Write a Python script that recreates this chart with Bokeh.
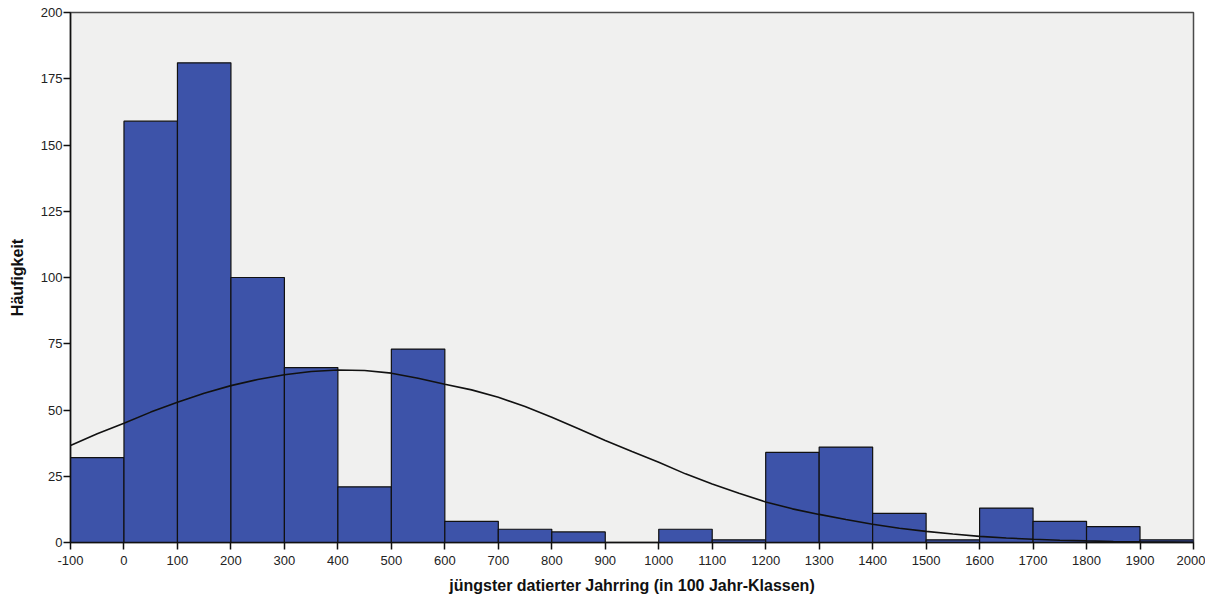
from bokeh.plotting import figure
from bokeh.models import Range1d, FixedTicker, ColumnDataSource
from bokeh.embed import file_html
from bokeh.resources import INLINE

# Histogram classes (left edge of each 100-year class) and counts
class_left = [-100, 0, 100, 200, 300, 400, 500, 600, 700, 800, 900,
              1000, 1100, 1200, 1300, 1400, 1500, 1600, 1700, 1800, 1900]
counts = [32, 159, 181, 100, 66, 21, 73, 8, 5, 4, 0,
          5, 1, 34, 36, 11, 1, 13, 8, 6, 1]
class_width = 100

# Normal curve
curve_x = [-100, -50, 0, 50, 100, 150, 200, 250, 300, 350, 400, 450, 500, 550,
           600, 650, 700, 750, 800, 850, 900, 950, 1000, 1050, 1100, 1150, 1200,
           1250, 1300, 1350, 1400, 1450, 1500, 1550, 1600, 1650, 1700, 1750,
           1800, 1850, 1900, 1950, 2000]
curve_y = [36.6, 41.0, 45.0, 49.2, 52.9, 56.3, 59.2, 61.5, 63.3, 64.5, 65.1, 64.9, 63.9, 62.0,
           59.7, 57.6, 54.8, 51.3, 47.3, 42.9, 38.5, 34.3, 30.3, 25.9, 22.1, 18.6, 15.3,
           12.7, 10.6, 8.7, 6.9, 5.4, 4.2, 3.2, 2.3, 1.7, 1.2, 0.85,
           0.6, 0.4, 0.27, 0.18, 0.12]

x_ticks = list(range(-100, 2001, 100))
x_tick_labels = [str(t) for t in x_ticks]
y_ticks = [0, 25, 50, 75, 100, 125, 150, 175, 200]

x_label = "jüngster datierter Jahrring (in 100 Jahr-Klassen)"
y_label = "Häufigkeit"

src = ColumnDataSource(dict(
    left=class_left,
    right=[l + class_width for l in class_left],
    top=counts,
    bottom=[0] * len(counts),
))

p = figure(width=1205, height=597, output_backend="svg", toolbar_location=None,
           x_range=Range1d(-100, 2000), y_range=Range1d(0, 200),
           min_border_left=70, min_border_right=12, min_border_top=12,
           min_border_bottom=55)

p.background_fill_color = "#f0f0ef"
p.border_fill_color = "white"
p.outline_line_color = "#4a4a4a"
p.outline_line_width = 1.5
p.xgrid.visible = False
p.ygrid.visible = False

p.quad(left="left", right="right", top="top", bottom="bottom", source=src,
       fill_color="#3d53a9", line_color="#111111", line_width=1.2)

p.line(curve_x, curve_y, line_color="#111111", line_width=1.6)

for ax in (p.xaxis[0], p.yaxis[0]):
    ax.axis_line_color = "#111111"
    ax.axis_line_width = 1.5
    ax.major_tick_line_color = "#111111"
    ax.major_tick_line_width = 1.5
    ax.major_tick_out = 7
    ax.major_tick_in = 0
    ax.minor_tick_line_color = None
    ax.major_label_text_font = "Liberation Sans"
    ax.major_label_text_font_size = "13px"
    ax.major_label_text_color = "#222222"
    ax.axis_label_text_font = "Liberation Sans"
    ax.axis_label_text_font_size = "16px"
    ax.axis_label_text_font_style = "bold"
    ax.axis_label_text_color = "#111111"

p.xaxis.ticker = FixedTicker(ticks=x_ticks)
p.xaxis.major_label_overrides = dict(zip(x_ticks, x_tick_labels))
p.yaxis.ticker = FixedTicker(ticks=y_ticks)
p.xaxis.axis_label = x_label
p.yaxis.axis_label = y_label
p.xaxis.major_label_standoff = 6
p.yaxis.major_label_standoff = 1
p.xaxis.axis_label_standoff = 9
p.yaxis.axis_label_standoff = 12

open("out.html", "w").write(file_html(p, INLINE))
